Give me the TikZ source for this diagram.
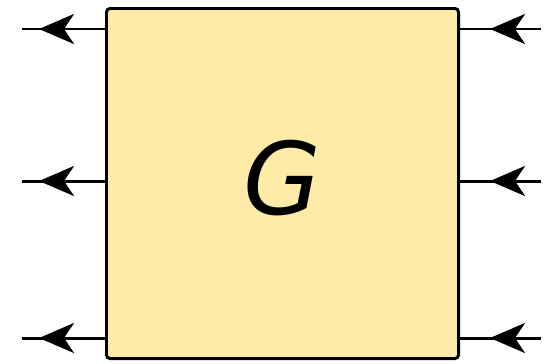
\documentclass[tikz,border=0pt]{standalone}
\usepackage{fontspec}
\setmainfont{DejaVu Sans}
\usetikzlibrary{arrows.meta,decorations.markings}
\definecolor{giallo}{HTML}{FFEBA8}

\begin{document}
\begin{tikzpicture}[
    filo/.style={line width=1.7pt},
    freccia/.style={postaction={decorate},
      decoration={markings,mark=at position #1 with {\arrow{Stealth[length=0.7cm,width=0.6cm,inset=0.2cm]}}}}
  ]
    \useasboundingbox (0,0) rectangle (10.98,7.26);
    % Blocco G
    \node[draw, line width=1.7pt, fill=giallo, rounded corners=2pt, minimum width=7.04cm, minimum height=7.0cm,
      inner sep=0pt] (G) at (5.65,3.59) {};
    \node[font=\itshape\fontsize{57}{60}\selectfont, inner sep=0pt] (nome) at ([yshift=0.1cm]G.center) {G};
    % Ingressi e uscite
    \foreach \i/\y in {1/6.68, 2/3.64, 3/0.50} {
      \coordinate (l\i) at (0.44,\y);
      \coordinate (r\i) at (10.82,\y);
      \draw[filo, freccia=1.32cm] (G.west |- l\i) -- (l\i);
      \draw[filo, freccia=1.02cm] (r\i) -- (G.east |- r\i);
    }
\end{tikzpicture}
\end{document}
